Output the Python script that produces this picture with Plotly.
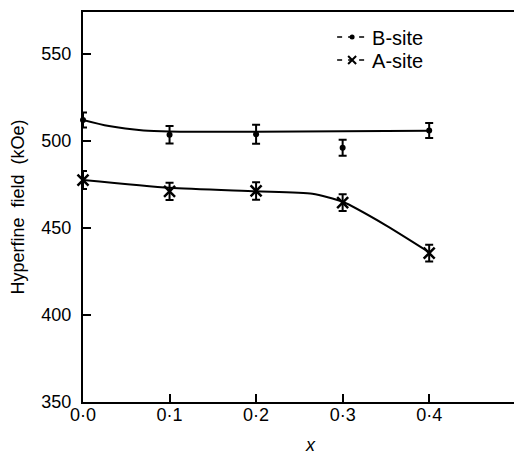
import plotly.graph_objects as go

# Data
x_vals = [0.0, 0.1, 0.2, 0.3, 0.4]
tick_labels = ["0·0", "0·1", "0·2", "0·3", "0·4"]

b_site = [512, 503.5, 503.8, 496, 506]
b_err = [4.3, 5.0, 5.5, 4.6, 4.3]

a_site = [477.5, 471, 471.2, 464.5, 435.5]
a_err = [5.2, 5.0, 5.0, 4.8, 4.8]

# Hand-drawn fit curves
b_curve_x = [0.0, 0.03, 0.07, 0.1, 0.2, 0.3, 0.4]
b_curve_y = [512, 508.5, 506, 505.4, 505.2, 505.5, 505.8]

a_curve_x = [0.0, 0.1, 0.2, 0.265, 0.3, 0.35, 0.4]
a_curve_y = [477.5, 473, 471, 469.6, 465, 451.5, 436]

y_ticks = [350, 400, 450, 500, 550]
y_range = [350, 574]

black = "black"
fig = go.Figure()

fig.add_trace(go.Scatter(x=b_curve_x, y=b_curve_y, mode="lines",
                         line=dict(color=black, width=2, shape="spline", smoothing=0.8),
                         showlegend=False, hoverinfo="skip", yaxis="y2"))
fig.add_trace(go.Scatter(x=a_curve_x, y=a_curve_y, mode="lines",
                         line=dict(color=black, width=2, shape="spline", smoothing=0.6),
                         showlegend=False, hoverinfo="skip"))

fig.add_trace(go.Scatter(x=x_vals, y=b_site, mode="markers",
                         marker=dict(symbol="circle", size=6, color=black),
                         error_y=dict(type="data", array=b_err, color=black, thickness=2, width=4),
                         showlegend=False, cliponaxis=False))
fig.add_trace(go.Scatter(x=x_vals, y=a_site, mode="markers",
                         marker=dict(symbol="x-thin", size=11, color=black,
                                     line=dict(color=black, width=2.5)),
                         error_y=dict(type="data", array=a_err, color=black, thickness=2, width=4),
                         showlegend=False, cliponaxis=False))

# Legend entries (two legends so their spacing can match the reference)
fig.add_trace(go.Scatter(x=[None], y=[None], mode="lines+markers", name="B-site",
                         line=dict(color=black, width=1.5, dash="5px,6px"),
                         marker=dict(symbol="circle", size=5, color=black),
                         legend="legend"))
fig.add_trace(go.Scatter(x=[None], y=[None], mode="lines+markers", name="A-site",
                         line=dict(color=black, width=1.5, dash="5px,6px"),
                         marker=dict(symbol="x-thin", size=8, color=black,
                                     line=dict(color=black, width=2)),
                         legend="legend2"))

legend_common = dict(xanchor="left", yanchor="middle", bgcolor="rgba(0,0,0,0)",
                     font=dict(size=20), itemwidth=30)

fig.update_layout(
    width=514, height=454,
    margin=dict(l=83, r=0, t=12, b=52),
    paper_bgcolor="white", plot_bgcolor="white",
    font=dict(family="Liberation Sans", size=18, color=black),
    showlegend=True,
    legend=dict(x=0.578, y=(402 - 37) / 390, **legend_common),
    legend2=dict(x=0.578, y=(402 - 60) / 390, **legend_common),
    xaxis=dict(range=[0, 0.498], tickvals=x_vals, ticktext=tick_labels,
               ticks="inside", ticklen=8, tickwidth=2, tickcolor=black,
               ticklabelstandoff=-5, tickfont=dict(size=18),
               showline=True, linecolor=black, linewidth=2, mirror=True,
               showgrid=False, zeroline=False),
    # labelled axis: invisible outside ticks give the labels their gap
    yaxis=dict(range=y_range, tickvals=y_ticks,
               ticktext=[str(v) for v in y_ticks],
               ticks="outside", ticklen=6, tickwidth=1, tickcolor="white",
               tickfont=dict(size=18),
               showline=True, linecolor=black, linewidth=2,
               showgrid=False, zeroline=False,
               title=dict(text="Hyperfine  field  (kOe)", font=dict(size=18), standoff=12)),
    # overlay axis draws the inside tick marks
    yaxis2=dict(range=y_range, overlaying="y", side="left", tickvals=y_ticks,
                ticks="inside", ticklen=8, tickwidth=2, tickcolor=black,
                showticklabels=False, showline=False,
                showgrid=False, zeroline=False),
    annotations=[dict(text="<i>x</i>", x=0.527, y=-54 / 390, xref="paper", yref="paper",
                      xanchor="center", yanchor="bottom", borderpad=0,
                      showarrow=False, font=dict(size=18))],
)

fig.write_html("out.html")
